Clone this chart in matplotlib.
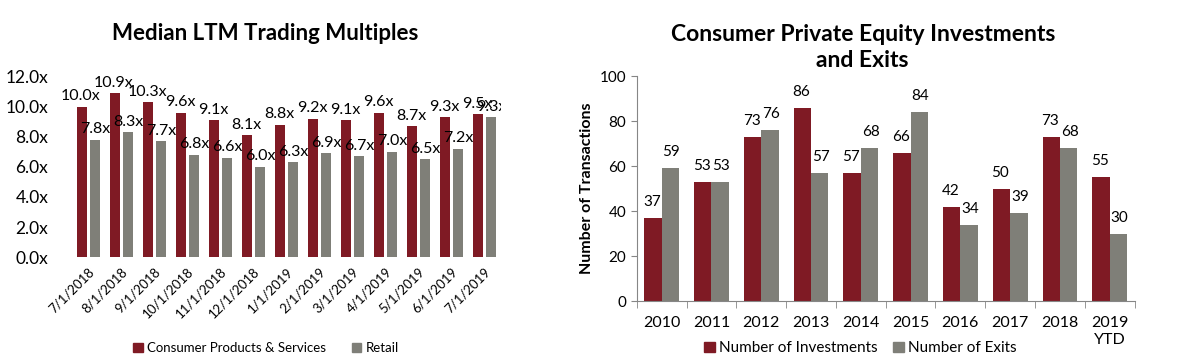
import numpy as np
import matplotlib.pyplot as plt
from matplotlib.patches import Patch

plt.rcParams['font.family'] = ['Lato', 'DejaVu Sans']

# Left chart data: median LTM trading multiples
dates = ['7/1/2018', '8/1/2018', '9/1/2018', '10/1/2018', '11/1/2018', '12/1/2018',
         '1/1/2019', '2/1/2019', '3/1/2019', '4/1/2019', '5/1/2019', '6/1/2019', '7/1/2019']
cps = [10.0, 10.9, 10.3, 9.6, 9.1, 8.1, 8.8, 9.2, 9.1, 9.6, 8.7, 9.3, 9.5]
retail = [7.8, 8.3, 7.7, 6.8, 6.6, 6.0, 6.3, 6.9, 6.7, 7.0, 6.5, 7.2, 9.3]
left_ticks = [0, 2, 4, 6, 8, 10, 12]

# Right chart data: PE investments and exits
years = ['2010', '2011', '2012', '2013', '2014', '2015', '2016', '2017', '2018', '2019\nYTD']
investments = [37, 53, 73, 86, 57, 66, 42, 50, 73, 55]
exits = [59, 53, 76, 57, 68, 84, 34, 39, 68, 30]
right_ticks = [0, 20, 40, 60, 80, 100]

maroon = '#7f1a24'
grey = '#7f7f78'
axis_grey = '#868686'

fig = plt.figure(figsize=(11.77, 3.61), dpi=100)

# ---------------- left chart ----------------
ax1 = fig.add_axes([0.061, 0.288, 0.3645, 0.499])
x = np.arange(len(dates))
w = 0.3
ax1.bar(x - 0.2, cps, w, color=maroon)
ax1.bar(x + 0.2, retail, w, color=grey)
for i in range(len(x)):
    ax1.text(x[i] - 0.22, cps[i] + 0.25, f'{cps[i]:.1f}x', ha='center', va='bottom', fontsize=11.5)
    # the chart area cuts off the last retail label, as in the source
    ax1.text(x[i] + 0.22, retail[i] + 0.25, f'{retail[i]:.1f}x', ha='center', va='bottom', fontsize=11.5,
             clip_on=True)
ax1.set_xlim(-0.5, len(x) - 0.5)
ax1.set_ylim(0, 12)
ax1.set_yticks(left_ticks)
ax1.set_yticklabels([f'{t:.1f}x' for t in left_ticks], fontsize=12.5)
ax1.set_xticks(x)
ax1.set_xticklabels(dates, rotation=45, ha='right', rotation_mode='anchor', fontsize=9.5)
ax1.tick_params(axis='y', length=0, pad=17)
ax1.tick_params(axis='x', length=0, pad=6)
for s in ax1.spines.values():
    s.set_visible(False)
fig.text(0.225, 0.908, 'Median LTM Trading Multiples', ha='center', va='center',
         fontsize=16, fontweight='bold')
fig.legend(handles=[Patch(color=maroon, label='Consumer Products & Services'),
                    Patch(color=grey, label='Retail')],
           loc='center', bbox_to_anchor=(0.226, 0.035), ncol=2, frameon=False,
           fontsize=9.5, handlelength=0.7, handleheight=0.7, handletextpad=0.3,
           columnspacing=2.0)

# ---------------- right chart ----------------
ax2 = fig.add_axes([0.541, 0.166, 0.423, 0.623])
x2 = np.arange(len(years))
w2 = 0.35
ax2.bar(x2 - w2 / 2, investments, w2, color=maroon)
ax2.bar(x2 + w2 / 2, exits, w2, color=grey)
for i in range(len(x2)):
    ax2.text(x2[i] - w2 / 2 - 0.02, investments[i] + 4, str(investments[i]), ha='center', va='bottom', fontsize=11)
    ax2.text(x2[i] + w2 / 2 + 0.02, exits[i] + 4, str(exits[i]), ha='center', va='bottom', fontsize=11)
ax2.set_xlim(-0.5, len(x2) - 0.5)
ax2.set_ylim(0, 100)
ax2.set_yticks(right_ticks)
ax2.tick_params(axis='y', labelsize=11, length=4, color=axis_grey, direction='out')
ax2.set_xticks(x2)
ax2.set_xticklabels(years, fontsize=11.5, va='top')
ax2.set_xticks(np.arange(len(x2) + 1) - 0.5, minor=True)
ax2.tick_params(axis='x', which='major', length=0, pad=11)
ax2.tick_params(axis='x', which='minor', length=5, color=axis_grey)
for s in ['top', 'right']:
    ax2.spines[s].set_visible(False)
for s in ['left', 'bottom']:
    ax2.spines[s].set_color(axis_grey)
ax2.set_ylabel('Number of Transactions', fontsize=11.5, fontweight='bold', labelpad=4)
fig.text(0.733, 0.868, 'Consumer Private Equity Investments\nand Exits', ha='center', va='center',
         fontsize=16.5, fontweight='bold', linespacing=1.3)
fig.legend(handles=[Patch(color=maroon, label='Number of Investments'),
                    Patch(color=grey, label='Number of Exits')],
           loc='center', bbox_to_anchor=(0.731, 0.035), ncol=2, frameon=False,
           fontsize=11, handlelength=0.7, handleheight=0.7, handletextpad=0.3,
           columnspacing=1.0)

fig.savefig('out.png', dpi=100)
